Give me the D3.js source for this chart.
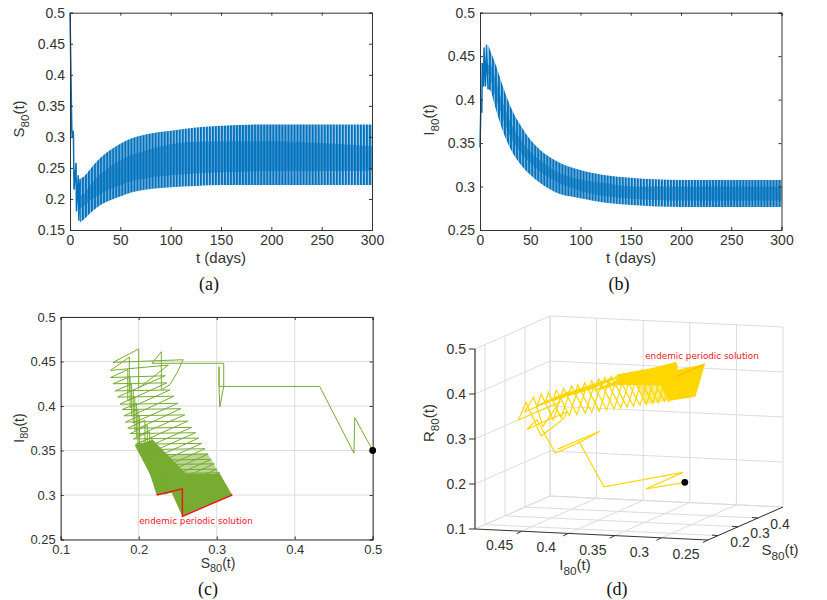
<!DOCTYPE html>
<html>
<head>
<meta charset="utf-8">
<script src="https://d3js.org/d3.v7.min.js"></script>
<style>
  html, body { margin: 0; padding: 0; background: #fff; }
  text { font-family: "Liberation Sans", Arial, sans-serif; fill: #333; }
  .caption { font-family: "Liberation Serif", serif; font-size: 18px; fill: #111; }
  .note { font-family: "DejaVu Sans", sans-serif; font-size: 8.8px; fill: #f0141e; }
</style>
</head>
<body>
<script>
// panel (a): first days, then upper/lower envelope of the fast oscillation
var aStartT = [0, 1.8, 2.2, 3, 3.4, 4, 6, 6.4, 8.2, 8.8, 10];
var aStartS = [0.5, 0.31, 0.30, 0.31, 0.305, 0.215, 0.258, 0.18, 0.238, 0.165, 0.232];
var aT = [10, 15, 20, 30, 40, 50, 60, 75, 100, 125, 150, 200, 250, 300];
var aUpper = [0.232, 0.238, 0.248, 0.266, 0.279, 0.289, 0.297, 0.304, 0.310, 0.315, 0.318, 0.320, 0.320, 0.320];
var aLower = [0.162, 0.169, 0.177, 0.190, 0.198, 0.204, 0.210, 0.215, 0.219, 0.221, 0.2225, 0.2225, 0.2225, 0.2225];
var aInnerHi = [0.205, 0.21, 0.222, 0.240, 0.252, 0.262, 0.270, 0.278, 0.288, 0.292, 0.293, 0.293, 0.290, 0.285];
var aInnerLo = [0.185, 0.19, 0.197, 0.208, 0.216, 0.222, 0.228, 0.233, 0.238, 0.241, 0.243, 0.245, 0.245, 0.245];

// panel (b)
var bStartT = [0, 1, 1.8, 2.2, 3.5, 4, 5.5, 6.5, 8];
var bStartI = [0.345, 0.40, 0.385, 0.442, 0.415, 0.46, 0.415, 0.463, 0.412];
var bT = [8, 10, 15, 20, 25, 30, 40, 50, 60, 75, 100, 125, 150, 200, 250, 300];
var bUpper = [0.463, 0.457, 0.442, 0.425, 0.408, 0.393, 0.371, 0.354, 0.342, 0.330, 0.319, 0.313, 0.31, 0.3075, 0.3075, 0.3075];
var bLower = [0.412, 0.411, 0.392, 0.373, 0.357, 0.344, 0.326, 0.3135, 0.304, 0.2935, 0.2866, 0.2814, 0.2788, 0.2765, 0.2765, 0.2765];
var bInnerHi = [0.44, 0.44, 0.425, 0.405, 0.39, 0.375, 0.355, 0.34, 0.33, 0.318, 0.308, 0.304, 0.30, 0.30, 0.30, 0.30];
var bInnerLo = [0.43, 0.425, 0.405, 0.387, 0.372, 0.358, 0.340, 0.327, 0.317, 0.306, 0.295, 0.289, 0.286, 0.284, 0.284, 0.284];

// panels (c) and (d): the opening path
var startS = [0.500, 0.477, 0.476, 0.432, 0.303, 0.303, 0.303, 0.304, 0.309, 0.309, 0.217, 0.229, 0.229, 0.240, 0.249, 0.257];
var startI = [0.350, 0.387, 0.347, 0.422, 0.422, 0.444, 0.422, 0.399, 0.422, 0.448, 0.448, 0.461, 0.418, 0.424, 0.437, 0.452];
var startR = [0.150, 0.136, 0.177, 0.146, 0.275, 0.253, 0.275, 0.297, 0.269, 0.243, 0.335, 0.310, 0.353, 0.336, 0.314, 0.291];

// one zigzag per entry: left tip, peak, drop, right tip
var leftS = [0.167, 0.164, 0.164, 0.167, 0.170, 0.173, 0.176, 0.179, 0.181, 0.183, 0.186, 0.189, 0.193, 0.196, 0.199, 0.202, 0.206, 0.209, 0.213, 0.215];
var leftI = [0.449, 0.440, 0.432, 0.425, 0.417, 0.410, 0.402, 0.396, 0.389, 0.382, 0.375, 0.369, 0.363, 0.357, 0.351, 0.345, 0.339, 0.334, 0.328, 0.324];
var leftR = [0.384, 0.396, 0.404, 0.408, 0.413, 0.417, 0.422, 0.425, 0.430, 0.435, 0.439, 0.442, 0.444, 0.447, 0.450, 0.453, 0.455, 0.457, 0.459, 0.461];
var peakS = [0.200, 0.188, 0.186, 0.189, 0.191, 0.193, 0.195, 0.197, 0.199, 0.201, 0.208, 0.211, 0.214, 0.217, 0.220, 0.223, 0.225, 0.228, 0.231, 0.233];
var peakI = [0.464, 0.455, 0.441, 0.433, 0.425, 0.418, 0.410, 0.403, 0.396, 0.389, 0.384, 0.378, 0.371, 0.365, 0.359, 0.353, 0.347, 0.341, 0.335, 0.331];
var peakR = [0.336, 0.357, 0.373, 0.378, 0.384, 0.389, 0.395, 0.400, 0.405, 0.410, 0.408, 0.411, 0.415, 0.418, 0.421, 0.424, 0.428, 0.431, 0.434, 0.436];
var dropI = [0.420, 0.416, 0.406, 0.398, 0.389, 0.381, 0.373, 0.366, 0.358, 0.350, 0.345, 0.338, 0.332, 0.325, 0.319, 0.313, 0.307, 0.301, 0.301, 0.301];
var dropR = [0.380, 0.396, 0.408, 0.413, 0.420, 0.426, 0.432, 0.437, 0.443, 0.449, 0.447, 0.451, 0.454, 0.458, 0.461, 0.464, 0.468, 0.471, 0.468, 0.466];
var rightS = [0.238, 0.234, 0.236, 0.240, 0.245, 0.250, 0.254, 0.259, 0.263, 0.268, 0.273, 0.277, 0.281, 0.285, 0.289, 0.293, 0.297, 0.300, 0.304, 0.307];
var rightI = [0.446, 0.434, 0.426, 0.418, 0.411, 0.403, 0.397, 0.390, 0.383, 0.376, 0.370, 0.364, 0.358, 0.352, 0.346, 0.340, 0.335, 0.329, 0.325, 0.319];
var rightR = [0.316, 0.332, 0.338, 0.342, 0.344, 0.347, 0.349, 0.351, 0.354, 0.356, 0.357, 0.359, 0.361, 0.363, 0.365, 0.367, 0.368, 0.371, 0.371, 0.374];

// the parts that are too dense to read, as outlines
var denseS = [0.212, 0.223, 0.242, 0.256, 0.288, 0.320, 0.304, 0.215];
var denseI = [0.330, 0.300, 0.303, 0.276, 0.288, 0.300, 0.324, 0.324];
var denseR = [0.458, 0.477, 0.455, 0.468, 0.424, 0.380, 0.372, 0.461];
var clusterS = [0.195, 0.218, 0.266, 0.217];
var clusterI = [0.356, 0.362, 0.319, 0.319];
var clusterR = [0.449, 0.420, 0.415, 0.464];
var tightS = [0.202, 0.288, 0.307, 0.215];
var tightI = [0.345, 0.347, 0.319, 0.324];
var tightR = [0.453, 0.365, 0.374, 0.461];

// periodic solution
var cycleS = [0.223, 0.256, 0.256, 0.288, 0.320];
var cycleI = [0.300, 0.307, 0.276, 0.288, 0.300];
var cycleR = [0.477, 0.437, 0.468, 0.424, 0.380];

var timeTicks = [0, 50, 100, 150, 200, 250, 300];
var aTicks = [0.15, 0.2, 0.25, 0.3, 0.35, 0.4, 0.45, 0.5];
var bTicks = [0.25, 0.3, 0.35, 0.4, 0.45, 0.5];
var cXTicks = [0.1, 0.2, 0.3, 0.4, 0.5];
var cYTicks = [0.25, 0.3, 0.35, 0.4, 0.45, 0.5];
var dRTicks = [0.1, 0.2, 0.3, 0.4, 0.5];
var dITicks = [0.45, 0.4, 0.35, 0.3, 0.25];
var dSTicks = [0.2, 0.3, 0.4];

var BLUE = "#0072bd", GREEN = "#77ac30", YELLOW = "#ffd700", RED = "#f0141e", GRID = "#dcdcdc", AXIS = "#333";

var svg = d3.select("body").append("svg").attr("width", 827).attr("height", 600);
var defs = svg.append("defs");

// main + subscript + rest, as one text
function subLabel(x, y, size, main, sub, rest, rotate) {
  var t = svg.append("text").attr("text-anchor", "middle").attr("font-size", size)
    .attr("transform", "translate(" + x + "," + y + ")" + (rotate ? " rotate(" + rotate + ")" : ""));
  t.append("tspan").text(main);
  t.append("tspan").attr("dy", size * 0.32).attr("font-size", size * 0.78).text(sub);
  t.append("tspan").attr("dy", -size * 0.32).text(rest);
}

function caption(x, y, s) {
  svg.append("text").attr("class", "caption").attr("x", x).attr("y", y).attr("text-anchor", "middle").text(s);
}

function triples(s, i, r) {
  return s.map(function(d, k) { return [s[k], i[k], r[k]]; });
}

function box(x, y, xTicks, yTicks, fontSize, grid) {
  var r = x.range(), b = y.range();
  var g = svg.append("g");
  if (grid) {
    g.selectAll("line.gx").data(xTicks).enter().append("line")
      .attr("x1", x).attr("x2", x).attr("y1", b[0]).attr("y2", b[1]).attr("stroke", GRID);
    g.selectAll("line.gy").data(yTicks).enter().append("line").attr("class", "gy")
      .attr("x1", r[0]).attr("x2", r[1]).attr("y1", y).attr("y2", y).attr("stroke", GRID);
  }
  var fmt = function(d) { return String(d); };
  g.append("g").attr("transform", "translate(0," + b[0] + ")")
    .call(d3.axisBottom(x).tickValues(xTicks).tickSize(-3).tickPadding(5).tickFormat(fmt));
  g.append("g").attr("transform", "translate(" + r[0] + ",0)")
    .call(d3.axisLeft(y).tickValues(yTicks).tickSize(-3).tickPadding(5).tickFormat(fmt));
  g.append("g").attr("transform", "translate(0," + b[1] + ")")
    .call(d3.axisTop(x).tickValues(xTicks).tickSize(-3).tickFormat(""));
  g.append("g").attr("transform", "translate(" + r[1] + ",0)")
    .call(d3.axisRight(y).tickValues(yTicks).tickSize(-3).tickFormat(""));
  g.selectAll("text").attr("font-size", fontSize).attr("font-family", "Liberation Sans").attr("fill", "#333");
  g.selectAll(".domain, .tick line").attr("stroke", AXIS);
  return g;
}

// time series panel: envelope band striped with the 3 day period, solid in the middle
function seriesPanel(id, left, right, yDomain, yTicks, startT, startV, t, upper, lower, innerHi, innerLo) {
  var x = d3.scaleLinear().domain([0, 300]).range([left, right]);
  var y = d3.scaleLinear().domain(yDomain).range([230, 12.7]);

  var period = x(3) - x(0);
  var pattern = defs.append("pattern").attr("id", id).attr("patternUnits", "userSpaceOnUse")
    .attr("x", left).attr("y", 0).attr("width", period).attr("height", 10);
  pattern.append("rect").attr("width", period).attr("height", 10).attr("fill", BLUE);
  pattern.append("rect").attr("x", period - 1).attr("width", 1).attr("height", 10).attr("fill", "#a9cde9");

  var idx = d3.range(t.length);
  var band = d3.area().x(function(i) { return x(t[i]); }).curve(d3.curveMonotoneX);
  svg.append("path").attr("fill", "url(#" + id + ")")
    .attr("d", band.y0(function(i) { return y(lower[i]); }).y1(function(i) { return y(upper[i]); })(idx));
  svg.append("path").attr("fill", BLUE).attr("opacity", 0.55)
    .attr("d", band.y0(function(i) { return y(innerLo[i]); }).y1(function(i) { return y(innerHi[i]); })(idx));

  svg.append("path").attr("fill", "none").attr("stroke", BLUE).attr("stroke-width", 1.5)
    .attr("d", d3.line().x(function(i) { return x(startT[i]); }).y(function(i) { return y(startV[i]); })(d3.range(startT.length)));

  box(x, y, timeTicks, yTicks, 14, false);
}

seriesPanel("stripesA", 70, 372, [0.15, 0.5], aTicks, aStartT, aStartS, aT, aUpper, aLower, aInnerHi, aInnerLo);
seriesPanel("stripesB", 480, 781.5, [0.25, 0.5], bTicks, bStartT, bStartI, bT, bUpper, bLower, bInnerHi, bInnerLo);

svg.append("text").attr("x", 221).attr("y", 263).attr("text-anchor", "middle").attr("font-size", 15).text("t (days)");
svg.append("text").attr("x", 631).attr("y", 263).attr("text-anchor", "middle").attr("font-size", 15).text("t (days)");
subLabel(24, 119, 15, "S", "80", "(t)", -90);
subLabel(434, 120, 15, "I", "80", "(t)", -90);
caption(209, 290, "(a)");
caption(619, 290, "(b)");

// whole path as [S, I, R]
var path = triples(startS, startI, startR);
leftS.forEach(function(d, i) {
  path.push([leftS[i], leftI[i], leftR[i]]);
  path.push([peakS[i], peakI[i], peakR[i]]);
  path.push([peakS[i], dropI[i], dropR[i]]);
  path.push([rightS[i], rightI[i], rightR[i]]);
});
var dense = triples(denseS, denseI, denseR);
var cluster = triples(clusterS, clusterI, clusterR);
var tight = triples(tightS, tightI, tightR);
var cycle = triples(cycleS, cycleI, cycleR);

// panel (c)
var cx = d3.scaleLinear().domain([0.1, 0.5]).range([60.7, 372.7]);
var cy = d3.scaleLinear().domain([0.25, 0.5]).range([539.5, 317]);
box(cx, cy, cXTicks, cYTicks, 13, true);
var cLine = d3.line().x(function(d) { return cx(d[0]); }).y(function(d) { return cy(d[1]); });
svg.append("path").attr("fill", GREEN).attr("opacity", 0.5).attr("d", cLine(tight) + "Z");
svg.append("path").attr("fill", GREEN).attr("d", cLine(cluster) + "Z");
svg.append("path").attr("fill", GREEN).attr("d", cLine(dense) + "Z");
svg.append("path").attr("fill", "none").attr("stroke", GREEN).attr("stroke-width", 1).attr("d", cLine(path));
svg.append("path").attr("fill", "none").attr("stroke", RED).attr("stroke-width", 1.4).attr("d", cLine(cycle));
svg.append("circle").attr("cx", cx(startS[0])).attr("cy", cy(startI[0])).attr("r", 3.4).attr("fill", "#000");
svg.append("text").attr("class", "note").attr("x", 196).attr("y", 524).attr("text-anchor", "middle").text("endemic periodic solution");
subLabel(218, 568, 14, "S", "80", "(t)");
subLabel(24, 428, 14, "I", "80", "(t)", -90);
caption(208, 595, "(c)");

// panel (d): fixed view of the box, each axis adds its own shift on the page
var iX = d3.scaleLinear().domain([0.5, 0.25]).range([0, 233]);
var iY = d3.scaleLinear().domain([0.5, 0.25]).range([0, 11]);
var sX = d3.scaleLinear().domain([0.15, 0.525]).range([0, 75]);
var sY = d3.scaleLinear().domain([0.15, 0.525]).range([0, -33]);
var rY = d3.scaleLinear().domain([0.1, 0.5]).range([0, -180]);
var SMIN = 0.15, SMAX = 0.525, IMIN = 0.25, IMAX = 0.5, RMIN = 0.1, RMAX = 0.5;

function px(d) { return 475 + iX(d[1]) + sX(d[0]); }
function py(d) { return 529 + iY(d[1]) + sY(d[0]) + rY(d[2]); }
var dLine = d3.line().x(px).y(py);

function seg(a, b, color, width) {
  svg.append("line").attr("x1", px(a)).attr("y1", py(a)).attr("x2", px(b)).attr("y2", py(b))
    .attr("stroke", color).attr("stroke-width", width || 1);
}

// grid on the floor and the two far walls
dITicks.concat([IMAX]).forEach(function(v) {
  seg([SMIN, v, RMIN], [SMAX, v, RMIN], GRID);
  seg([SMAX, v, RMIN], [SMAX, v, RMAX], GRID);
});
dSTicks.concat([SMAX]).forEach(function(v) {
  seg([v, IMIN, RMIN], [v, IMAX, RMIN], GRID);
  seg([v, IMAX, RMIN], [v, IMAX, RMAX], GRID);
});
dRTicks.forEach(function(v) {
  seg([SMIN, IMAX, v], [SMAX, IMAX, v], GRID);
  seg([SMAX, IMAX, v], [SMAX, IMIN, v], GRID);
});

svg.append("path").attr("fill", YELLOW).attr("opacity", 0.5).attr("d", dLine(tight) + "Z");
svg.append("path").attr("fill", YELLOW).attr("d", dLine(cluster) + "Z");
svg.append("path").attr("fill", YELLOW).attr("d", dLine(dense) + "Z");
svg.append("path").attr("fill", "none").attr("stroke", YELLOW).attr("stroke-width", 1.2).attr("d", dLine(path));
svg.append("path").attr("fill", "none").attr("stroke", "#ffb000").attr("stroke-width", 1).attr("d", dLine(cycle.slice(1, 3)));
svg.append("circle").attr("cx", px(path[0])).attr("cy", py(path[0])).attr("r", 3.4).attr("fill", "#000");

// dark axes with ticks
seg([SMIN, IMAX, RMIN], [SMIN, IMAX, RMAX], AXIS, 1.2);
seg([SMIN, IMAX, RMIN], [SMIN, IMIN, RMIN], AXIS);
seg([SMIN, IMIN, RMIN], [SMAX, IMIN, RMIN], AXIS);

dRTicks.forEach(function(v) {
  var p = [SMIN, IMAX, v];
  svg.append("line").attr("x1", px(p)).attr("x2", px(p) - 6).attr("y1", py(p)).attr("y2", py(p)).attr("stroke", AXIS);
  svg.append("text").attr("x", px(p) - 9).attr("y", py(p) + 5).attr("text-anchor", "end").attr("font-size", 14).text(String(v));
});
dITicks.forEach(function(v) {
  var p = [SMIN, v, RMIN];
  svg.append("line").attr("x1", px(p)).attr("x2", px(p) - 5).attr("y1", py(p)).attr("y2", py(p) + 2.5).attr("stroke", AXIS);
  svg.append("text").attr("x", px(p) - 22).attr("y", py(p) + 19).attr("text-anchor", "middle").attr("font-size", 14).text(String(v));
});
dSTicks.forEach(function(v) {
  var p = [v, IMIN, RMIN];
  svg.append("line").attr("x1", px(p)).attr("x2", px(p) - 6).attr("y1", py(p)).attr("y2", py(p) - 0.5).attr("stroke", AXIS);
  svg.append("text").attr("x", px(p) + 22).attr("y", py(p) + 11).attr("text-anchor", "middle").attr("font-size", 14).text(String(v));
});

svg.append("text").attr("class", "note").attr("x", 702).attr("y", 359).attr("text-anchor", "middle").text("endemic periodic solution");
subLabel(575, 570, 15, "I", "80", "(t)");
subLabel(780, 555, 15, "S", "80", "(t)");
subLabel(434, 423, 15, "R", "80", "(t)", -90);
caption(617, 595, "(d)");
</script>
</body>
</html>
